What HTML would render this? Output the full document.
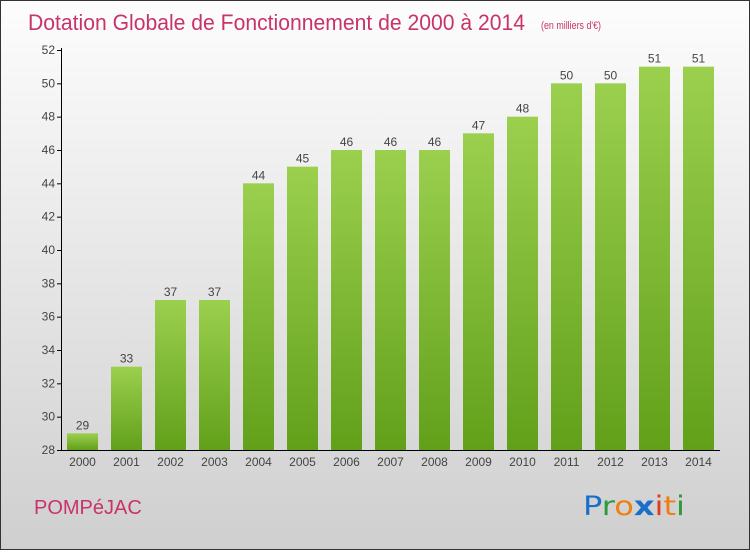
<!DOCTYPE html>
<html><head><meta charset="utf-8"><style>
html,body{margin:0;padding:0}
body{width:750px;height:550px;overflow:hidden;font-family:"Liberation Sans",sans-serif}
</style></head><body>
<svg width="750" height="550" xmlns="http://www.w3.org/2000/svg">
<defs>
<linearGradient id="bg" x1="0" y1="0" x2="0" y2="1"><stop offset="0" stop-color="#fdfdfd"/><stop offset="1" stop-color="#cfcfcf"/></linearGradient>
<linearGradient id="bar" x1="0" y1="0" x2="0" y2="1"><stop offset="0" stop-color="#9bd04f"/><stop offset="1" stop-color="#62a01a"/></linearGradient>
</defs>
<rect x="0.5" y="0.5" width="749" height="549" fill="url(#bg)" stroke="#333"/>
<text x="28" y="30" font-size="22" fill="#c8336a" textLength="497" lengthAdjust="spacingAndGlyphs">Dotation Globale de Fonctionnement de 2000 à 2014</text>
<text x="541" y="29" font-size="11" fill="#c8336a" textLength="60" lengthAdjust="spacingAndGlyphs">(en milliers d'€)</text>
<g id="yaxis"></g>
<g id="bars"></g>
<text x="34" y="514" font-size="20" fill="#c8336a">POMPéJAC</text>
<g font-size="27" font-family="'DejaVu Sans',sans-serif">
<text x="583" y="515" textLength="102" lengthAdjust="spacingAndGlyphs"><tspan fill="#1a6fc9">P</tspan><tspan fill="#2a9a3a">r</tspan><tspan fill="#f07e10">o</tspan><tspan fill="#1a6fc9" font-weight="bold">x</tspan><tspan fill="#e53a1a">i</tspan><tspan fill="#f07e10">t</tspan><tspan fill="#2a9a3a">i</tspan></text>
</g>
</svg>
<script>
const years=["2000","2001","2002","2003","2004","2005","2006","2007","2008","2009","2010","2011","2012","2013","2014"];
const values=[29,33,37,37,44,45,46,46,46,47,48,50,50,51,51];
const yTicks=[28,30,32,34,36,38,40,42,44,46,48,50,52];
const NS="http://www.w3.org/2000/svg";
const y=v=>450-(v-28)*(400/24);
const x=i=>82.5+44*i;
function mk(t,a,p){const e=document.createElementNS(NS,t);for(const k in a)e.setAttribute(k,a[k]);p.appendChild(e);return e;}
const ya=document.getElementById('yaxis'),bg=document.getElementById('bars');
const ax=mk('line',{x1:61.5,y1:48,x2:61.5,y2:450.5,stroke:'#000'},ya);


const bx=mk('line',{x1:61,y1:450.5,x2:720,y2:450.5,stroke:'#000'},ya);


yTicks.forEach(t=>{
 const l=mk('line',{x1:57,x2:61,y1:y(t)+.5,y2:y(t)+.5,stroke:'#000'},ya);
 
 
 const tx=mk('text',{x:55,y:y(t)+4,'text-anchor':'end','font-size':12,fill:'#444'},ya);
 tx.textContent=t;
 
 
});
years.forEach((yr,i)=>{
 const r=mk('rect',{x:x(i)-15.5,y:y(values[i]),width:31,height:450-y(values[i]),fill:'url(#bar)'},bg);
 
 
 const v=mk('text',{x:x(i),y:y(values[i])-4,'text-anchor':'middle','font-size':12,fill:'#444'},bg);
 v.textContent=values[i];
 
 
 const xl=mk('text',{x:x(i),y:466,'text-anchor':'middle','font-size':12,fill:'#444'},bg);
 xl.textContent=yr;
 
 
});
</script>
</body></html>
